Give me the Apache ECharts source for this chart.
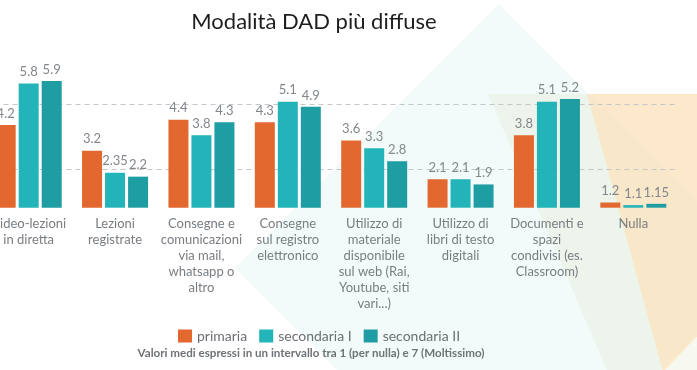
<!DOCTYPE html>
<html>
<head>
<meta charset="utf-8">
<script src="https://cdn.jsdelivr.net/npm/echarts@6/dist/echarts.min.js"></script>
<style>
html,body{margin:0;padding:0;background:#fff;}
#chart{width:697px;height:370px;}
</style>
</head>
<body>
<div id="chart"></div>
<script>
var categories = [
  "Video-lezioni\nin diretta",
  "Lezioni\nregistrate",
  "Consegne e\ncomunicazioni\nvia mail,\nwhatsapp o\naltro",
  "Consegne\nsul registro\nelettronico",
  "Utilizzo di\nmateriale\ndisponibile\nsul web (Rai,\nYoutube, siti\nvari...)",
  "Utilizzo di\nlibri di testo\ndigitali",
  "Documenti e\nspazi\ncondivisi (es.\nClassroom)",
  "Nulla"
];
var primaria = [4.2, 3.2, 4.4, 4.3, 3.6, 2.1, 3.8, 1.2];
var secondariaI = [5.8, 2.35, 3.8, 5.1, 3.3, 2.1, 5.1, 1.1];
var secondariaII = [5.9, 2.2, 4.3, 4.9, 2.8, 1.9, 5.2, 1.15];
var gridValues = [2.5, 5];
var seriesNames = ["primaria", "secondaria I", "secondaria II"];
var colors = ["#E2682F", "#22B4B8", "#1E9DA2"];

var chart = echarts.init(document.getElementById('chart'), null, {renderer: 'canvas'});
var FONT = 'Lato, "Noto Sans", sans-serif';

function barSeries(name, data, color, extra) {
  var s = {
    name: name,
    type: 'bar',
    data: data,
    barWidth: 20,
    barGap: '15%',
    z: 3,
    itemStyle: {color: color},
    label: {
      show: true,
      position: 'top',
      distance: 5,
      color: '#82878c',
      fontFamily: FONT,
      fontSize: 13
    }
  };
  if (extra) for (var k in extra) s[k] = extra[k];
  return s;
}

var option = {
  backgroundColor: '#ffffff',
  animation: false,
  color: colors,
  graphic: [
    {
      type: 'polygon', z: -10, silent: true,
      shape: {points: [[499, 4], [235, 268], [499, 532], [763, 268]]},
      style: {fill: 'rgb(243,251,250)'}
    },
    {
      type: 'polygon', z: -9, silent: true,
      shape: {points: [[488, 94], [720, 94], [720, 370], [607, 370]]},
      style: {fill: 'rgba(215,222,175,0.2)'}
    },
    {
      type: 'polygon', z: -8, silent: true,
      shape: {points: [[587, 94], [720, 94], [720, 312], [663, 372]]},
      style: {fill: 'rgba(253,226,188,0.72)'}
    },
    {
      type: 'text', z: 10,
      x: 314, y: 22,
      style: {
        text: 'Modalità DAD più diffuse',
        fill: '#1e1e1e',
        font: 'normal 22px ' + FONT,
        align: 'center',
        verticalAlign: 'middle'
      }
    },
    {
      type: 'text', z: 10,
      x: 311, y: 353,
      style: {
        text: 'Valori medi espressi in un intervallo tra 1 (per nulla) e 7 (Moltissimo)',
        fill: '#6e7276',
        font: 'bold 11.6px ' + FONT,
        align: 'center',
        verticalAlign: 'middle'
      }
    }
  ],
  legend: {
    data: seriesNames,
    left: 178,
    top: 329,
    padding: 0,
    itemWidth: 14,
    itemHeight: 13,
    itemGap: 12,
    icon: 'rect',
    textStyle: {color: '#6b6f74', fontFamily: FONT, fontSize: 14}
  },
  grid: {
    left: -14.5,
    right: 20.5,
    top: 52.5,
    bottom: 162.3,
    containLabel: false,
    outerBoundsMode: 'none'
  },
  xAxis: {
    type: 'category',
    data: categories,
    axisLine: {show: false},
    axisTick: {show: false},
    axisLabel: {
      interval: 0,
      margin: 8,
      color: '#787d82',
      fontFamily: FONT,
      fontSize: 13,
      lineHeight: 16
    }
  },
  yAxis: {
    type: 'value',
    min: 1,
    max: 7,
    axisLine: {show: false},
    axisTick: {show: false},
    axisLabel: {show: false},
    splitLine: {show: false}
  },
  series: [
    barSeries(seriesNames[0], primaria, colors[0], {
      markLine: {
        silent: true,
        z: 1,
        symbol: 'none',
        label: {show: false},
        lineStyle: {color: '#c4c6c8', type: [5, 4], width: 1},
        data: gridValues.map(function (v) { return {yAxis: v}; })
      }
    }),
    barSeries(seriesNames[1], secondariaI, colors[1]),
    barSeries(seriesNames[2], secondariaII, colors[2])
  ]
};
chart.setOption(option);
</script>
</body>
</html>
